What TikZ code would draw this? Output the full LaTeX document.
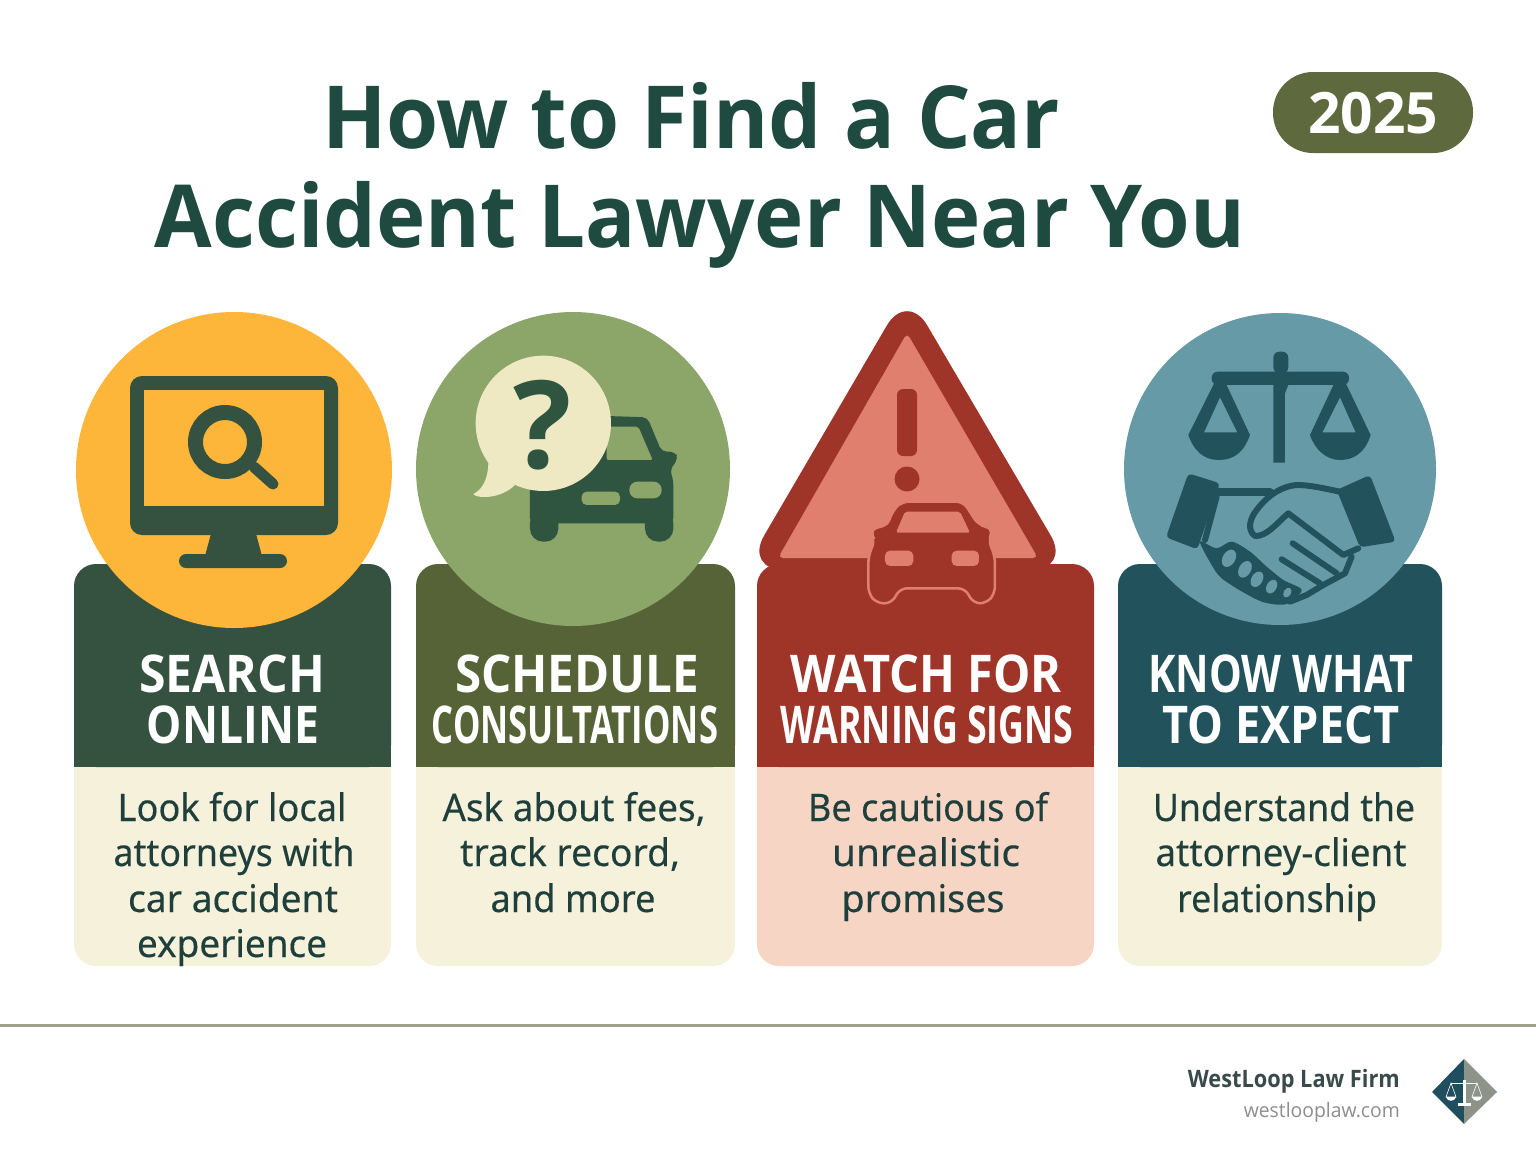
\documentclass[tikz,border=0pt]{standalone}
\usepackage{fontspec}
\usepackage{graphicx}
\setmainfont{Open Sans}
\newfontfamily\bodyfont[FakeBold=0.25]{Noto Sans}
\newcommand{\hfit}[2]{\resizebox{#1pt}{\height}{#2}}
\definecolor{titlec}{HTML}{1F4A3F}
\definecolor{hdA}{HTML}{34523F}
\definecolor{hdB}{HTML}{556336}
\definecolor{hdC}{HTML}{9F3529}
\definecolor{hdD}{HTML}{22525C}
\definecolor{orangec}{HTML}{FDB53A}
\definecolor{greenc}{HTML}{8BA668}
\definecolor{lightred}{HTML}{E07F6D}
\definecolor{tealc}{HTML}{679AA7}
\definecolor{cream}{HTML}{F5F1DA}
\definecolor{bubble}{HTML}{EFE9C3}
\definecolor{pinkc}{HTML}{F6D5C4}
\definecolor{bodytxt}{HTML}{1F3F3D}
\definecolor{carg}{HTML}{2F5541}
\definecolor{badge}{HTML}{5E6A3E}
\definecolor{rulec}{HTML}{A0A08C}
\definecolor{firmc}{HTML}{3A4A4A}
\definecolor{urlc}{HTML}{8E8E8E}
\definecolor{dgrey}{HTML}{8E9388}
\definecolor{dteal}{HTML}{1F4E5F}
\tikzset{
  titletxt/.style={anchor=base,inner sep=0pt,text=titlec,font=\fontsize{87}{87}\selectfont\bfseries},
  headtxt/.style={anchor=base,inner sep=0pt,text=white,font=\fontsize{52}{52}\selectfont\bfseries},
  bodytxtn/.style={anchor=base,inner sep=0pt,text=bodytxt,font=\fontsize{38}{38}\selectfont\bodyfont},
  tealline/.style={draw=hdD,line width=6pt,line cap=round,line join=round},
}
\begin{document}
\begin{tikzpicture}[x=1pt,y=-1pt]
\useasboundingbox (0,0) rectangle (1536,1154);
\fill[white] (0,0) rectangle (1536,1154);
% title
\node[titletxt] (t1) at (691,148) {\hfit{738}{How to Find a Car}};
\node[titletxt] (t2) at (700,247) {\hfit{1090}{Accident Lawyer Near You}};
\fill[badge] (1273,72) [rounded corners=40pt] rectangle (1473,153);
\node[anchor=base,inner sep=0pt,text=white,font=\fontsize{57}{57}\selectfont\bfseries] (yr) at (1373,133) {\hfit{130}{2025}};
% cards: cream body, then a header with only its top corners rounded
\fill[cream,rounded corners=22pt] (74,700) rectangle (391,966);
\fill[hdA,rounded corners=22pt] (74,767) |- (391,564) |- (74,767) -- cycle;
\fill[hdA] (74,640) rectangle (391,767);
\fill[cream,rounded corners=22pt] (416,700) rectangle (735,966);
\fill[hdB,rounded corners=22pt] (416,767) |- (735,564) |- (416,767) -- cycle;
\fill[hdB] (416,640) rectangle (735,767);
\fill[pinkc,rounded corners=22pt] (757,700) rectangle (1094,966);
\fill[hdC,rounded corners=22pt] (757,767) |- (1094,564) |- (757,767) -- cycle;
\fill[hdC] (757,640) rectangle (1094,767);
\fill[cream,rounded corners=22pt] (1118,700) rectangle (1442,966);
\fill[hdD,rounded corners=22pt] (1118,767) |- (1442,564) |- (1118,767) -- cycle;
\fill[hdD] (1118,640) rectangle (1442,767);
% circles
\fill[orangec] (234,470) circle (158);
\fill[greenc] (573,469) circle (157);
\fill[tealc] (1280,469) circle (156);
% monitor
\fill[hdA,rounded corners=12pt] (130,376) rectangle (338,535);
\fill[orangec] (144,390) rectangle (324,506);
\fill[hdA] (212,530) -- (255,530) -- (262,556) -- (205,556) -- cycle;
\fill[hdA,rounded corners=7pt] (179,554) rectangle (287,568);
\draw[hdA,line width=15pt] (225,442) circle (29.5);
\draw[hdA,line width=11pt,line cap=round] (254,467) -- (273,484);
% speech bubble and car
\begin{scope}[shift={(410,310)},x=0.3333pt,y=-0.3333pt]
  \fill[carg,rounded corners=5pt] (560,317) -- (712,322) -- (755,425) -- (795,425) -- (805,445) -- (780,480) -- (790,510) -- (790,640) -- (360,640) -- (360,450) -- (560,450) -- cycle;
  \fill[carg,rounded corners=13pt] (360,600) rectangle (445,695);
  \fill[carg,rounded corners=13pt] (705,600) rectangle (790,695);
  \fill[greenc,rounded corners=2pt] (590,350) -- (685,350) -- (728,450) -- (590,450) -- cycle;
  \fill[greenc,rounded corners=5pt] (515,545) rectangle (630,585);
  \fill[greenc,rounded corners=8pt] (658,515) rectangle (755,565);
  \fill[bubble] (400,340) circle (203pt*0.3333);
  \fill[bubble] (235,455) .. controls (235,510) and (215,540) .. (190,552) .. controls (195,565) and (270,570) .. (315,525) -- cycle;
\end{scope}
\node[anchor=center,inner sep=0pt,text=carg,font=\fontsize{122}{122}\selectfont\bfseries] (qm) at (543,425) {?};
% warning triangle
\fill[hdC] (907,570) [rounded corners=40pt] -- (744,570) [rounded corners=40pt] -- (907,291) -- (1071,570) -- cycle;
\fill[lightred,rounded corners=5pt] (907,333) -- (778,558) -- (1038,558) -- cycle;
\fill[hdC,rounded corners=6pt] (897,389) rectangle (917,456);
\fill[hdC] (907,479) circle (12.5);
\begin{scope}[shift={(750,310)},x=0.3333pt,y=-0.3333pt]
  \fill[hdC,draw=lightred,line width=2.5pt,rounded corners=7pt] (355,770) -- (355,740) -- (375,690) -- (360,670) -- (375,650) -- (410,650) -- (430,600) -- (455,575) -- (640,575) -- (685,645) -- (715,650) -- (730,665) -- (715,690) -- (735,740) -- (735,850) -- (710,880) -- (670,880) -- (645,835) -- (450,835) -- (425,880) -- (380,880) -- (355,850) -- cycle;
  \fill[lightred,rounded corners=2pt] (465,605) -- (630,605) -- (660,668) -- (438,668) -- cycle;
  \fill[lightred,rounded corners=5pt] (405,722) rectangle (490,768);
  \fill[lightred,rounded corners=5pt] (605,722) rectangle (687,768);
\end{scope}
% scales and handshake
\begin{scope}[shift={(1110,310)},x=0.3333pt,y=-0.3333pt]
  \fill[hdD,rounded corners=6pt] (305,185) rectangle (717,225);
  \fill[hdD,rounded corners=6pt] (490,125) rectangle (535,190);
  \fill[hdD] (490,225) -- (535,225) -- (525,250) -- (525,458) -- (490,458) -- (490,250) -- cycle;
  \fill[hdD,even odd rule] (315,215) -- (345,215) -- (420,375) .. controls (400,430) and (370,450) .. (325,450) .. controls (280,450) and (250,420) .. (235,375) -- cycle (330,262) -- (282,367) -- (382,367) -- cycle;
  \fill[hdD,even odd rule] (675,215) -- (705,215) -- (782,375) .. controls (765,430) and (730,450) .. (690,450) .. controls (650,450) and (615,420) .. (600,375) -- cycle (690,262) -- (637,367) -- (737,367) -- cycle;
  \fill[hdD,rounded corners=4pt] (235,490) -- (330,520) -- (262,718) -- (168,682) -- cycle;
  \fill[hdD,rounded corners=4pt] (780,495) -- (857,695) -- (750,712) -- (680,540) -- cycle;
  \draw[tealline,line width=8pt] (325,547) -- (480,547);
  \draw[tealline] (285,690) -- (320,560);
  \draw[tealline] (690,545) .. controls (640,535) and (600,525) .. (560,525) .. controls (510,530) and (470,560) .. (440,600) .. controls (420,625) and (410,660) .. (435,678) .. controls (470,680) and (500,640) .. (535,610) -- (700,735) -- (745,715);
  \draw[tealline] (725,740) -- (705,790) -- (640,825) -- (590,855) -- (540,875);
  \draw[tealline] (548,700) -- (680,790);
  \draw[tealline] (515,748) -- (630,820);
  \fill[hdD] plot[smooth cycle] coordinates {(270,695) (320,715) (365,695) (420,725) (470,770) (520,810) (575,840) (530,882) (465,878) (405,850) (335,805) (305,765)};
  \foreach \hx/\hy/\ha/\hb in {357/745/28/19, 405/778/27/18, 441/808/25/17, 485/830/22/15, 532/848/16/11}
    \fill[tealc,rotate around={60:(\hx,\hy)}] (\hx,\hy) ellipse [x radius=\ha*0.3333pt,y radius=\hb*0.3333pt];
\end{scope}
% headings
\node[headtxt] (h1a) at (232,692) {\hfit{186}{SEARCH}};
\node[headtxt] (h1b) at (233,743) {\hfit{172}{ONLINE}};
\node[headtxt] (h2a) at (577,692) {\hfit{244}{SCHEDULE}};
\node[headtxt] (h2b) at (575,743) {\hfit{286}{CONSULTATIONS}};
\node[headtxt] (h3a) at (926,692) {\hfit{271}{WATCH FOR}};
\node[headtxt] (h3b) at (927,743) {\hfit{293}{WARNING SIGNS}};
\node[headtxt] (h4a) at (1281,692) {\hfit{265}{KNOW WHAT}};
\node[headtxt] (h4b) at (1281,743) {\hfit{237}{TO EXPECT}};
% body text
\node[bodytxtn] (b1a) at (232,821) {\hfit{229}{Look for local}};
\node[bodytxtn] (b1b) at (234,866) {\hfit{241}{attorneys with}};
\node[bodytxtn] (b1c) at (233,912) {\hfit{210}{car accident}};
\node[bodytxtn] (b1d) at (232,957) {\hfit{190}{experience}};
\node[bodytxtn] (b2a) at (574,821) {\hfit{263}{Ask about fees,}};
\node[bodytxtn] (b2b) at (570,866) {\hfit{220}{track record,}};
\node[bodytxtn] (b2c) at (573,912) {\hfit{165}{and more}};
\node[bodytxtn] (b3a) at (928,821) {\hfit{240}{Be cautious of}};
\node[bodytxtn] (b3b) at (926,866) {\hfit{188}{unrealistic}};
\node[bodytxtn] (b3c) at (923,912) {\hfit{163}{promises}};
\node[bodytxtn] (b4a) at (1284,821) {\hfit{262}{Understand the}};
\node[bodytxtn] (b4b) at (1281,866) {\hfit{251}{attorney-client}};
\node[bodytxtn] (b4c) at (1277,912) {\hfit{200}{relationship}};
% footer
\draw[rulec,line width=3pt] (0,1025) -- (1536,1025);
\node[anchor=base east,inner sep=0pt,text=firmc,font=\fontsize{24}{24}\selectfont\bfseries] (firm) at (1400,1087) {\hfit{212}{WestLoop Law Firm}};
\node[anchor=base east,inner sep=0pt,text=urlc,font=\fontsize{20}{20}\selectfont] (url) at (1400,1117) {\hfit{156}{westlooplaw.com}};
% diamond logo
\fill[dteal] (1464,1059) -- (1432,1092) -- (1464,1124) -- cycle;
\fill[dgrey] (1464,1059) -- (1497,1092) -- (1464,1124) -- cycle;
\draw[white,line width=1pt] (1451,1083) -- (1477,1083);
\fill[white] (1462.5,1080) rectangle (1465.5,1104);
\fill[white] (1458,1103) rectangle (1471,1106);
\draw[white,line width=0.6pt] (1451,1083) -- (1446,1097) -- (1456,1097) -- cycle;
\draw[white,line width=0.6pt] (1477,1083) -- (1472,1097) -- (1482,1097) -- cycle;
\fill[white] (1446,1097) .. controls (1447,1102) and (1455,1102) .. (1456,1097) -- cycle;
\fill[white] (1472,1097) .. controls (1473,1102) and (1481,1102) .. (1482,1097) -- cycle;
\end{tikzpicture}
\end{document}
